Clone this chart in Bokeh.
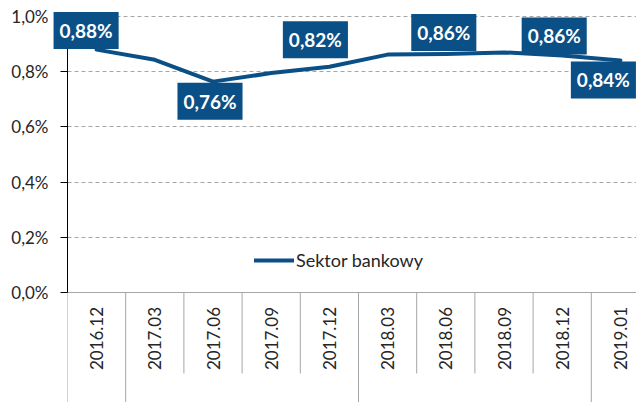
import math
from bokeh.plotting import figure
from bokeh.models import ColumnDataSource, FixedTicker, Range1d, Legend, LegendItem
from bokeh.core.properties import value
from bokeh.embed import file_html
from bokeh.resources import INLINE

# ---- data ----
categories = ["2016.12", "2017.03", "2017.06", "2017.09", "2017.12",
              "2018.03", "2018.06", "2018.09", "2018.12", "2019.01"]
sector_values = [0.880, 0.843, 0.764, 0.795, 0.818, 0.862, 0.864, 0.870, 0.859, 0.841]
labelled = [True, False, True, False, True, False, True, False, True, True]
# year-group boundaries (index of the category that starts a new group)
group_starts = [0, 1, 5, 9]
y_ticks = [0.0, 0.2, 0.4, 0.6, 0.8, 1.0]
y_tick_labels = ["0,0%", "0,2%", "0,4%", "0,6%", "0,8%", "1,0%"]
series_name = "Sektor bankowy"

# ---- styles / layout ----
BLUE = "#0A4F86"
GRID = "#A6A6A6"
TXT = "#262626"
FONT = "Lato"
W, H = 636, 402
LEFT = 67
PX_PER_UNIT = 276.0            # pixels per 1.0 (100%) on the y scale
ZERO_PX = 292                  # pixel (from top of figure) of the 0 line
CAT_W = 58.2                   # pixel width of one category

y_top = ZERO_PX / PX_PER_UNIT
y_bot = -(H - ZERO_PX) / PX_PER_UNIT
x_end = (W - LEFT) / CAT_W


def py(px_from_top):
    return (ZERO_PX - px_from_top) / PX_PER_UNIT


p = figure(width=W, height=H, output_backend="svg", toolbar_location=None,
           x_range=Range1d(0, x_end), y_range=Range1d(y_bot, y_top),
           x_axis_location=None, min_border_left=LEFT, min_border_right=0,
           min_border_top=0, min_border_bottom=0)
p.outline_line_color = None
p.background_fill_color = "white"
p.xgrid.visible = False

# y axis
ax = p.yaxis[0]
ax.ticker = FixedTicker(ticks=y_ticks)
ax.major_label_overrides = {t: l for t, l in zip(y_ticks, y_tick_labels)}
ax.bounds = (0, 1.0)
ax.axis_line_color = "black"
ax.axis_line_width = 1
ax.major_tick_line_color = "black"
ax.major_tick_in = 0
ax.major_tick_out = 7
ax.minor_tick_line_color = None
ax.major_label_standoff = 12
ax.major_label_text_font = FONT
ax.major_label_text_font_size = "17px"
ax.major_label_text_color = TXT

# grid
p.ygrid.ticker = FixedTicker(ticks=y_ticks[1:])
p.ygrid.grid_line_color = GRID
p.ygrid.grid_line_dash = "4 3"
p.ygrid.grid_line_width = 1

n = len(categories)
xs = [i + 0.5 for i in range(n)]

# zero line
p.segment(x0=[0], y0=[0], x1=[x_end + 1], y1=[0], line_color=GRID, line_width=1)

# category separators below the axis
sep_x = list(range(n + 1))
short_end = py(373)
sep_y1 = [y_bot if i in group_starts else short_end for i in sep_x]
p.segment(x0=sep_x, y0=[0] * len(sep_x), x1=sep_x, y1=sep_y1,
          line_color=GRID, line_width=1)

# category labels (rotated)
p.text(x=xs, y=[py(338)] * n, text=categories, angle=math.pi / 2,
       text_align="center", text_baseline="middle",
       text_font=value(FONT), text_font_size="17px", text_color=TXT)

# line
src = ColumnDataSource(dict(x=xs, y=sector_values))
line_r = p.line("x", "y", source=src, line_color=BLUE, line_width=4,
                line_join="round", line_cap="round")

# data labels
lab_dx = [-10.5, 0, -3, 0, -14, 0, -2, 0, -8, -17]
lab_dy = [-19, 0, 19.5, 0, -27, 0, -21.5, 0, -19.5, 19.5]
lx, ly, lt, ldx, ldy = [], [], [], [], []
for i in range(n):
    if labelled[i]:
        lx.append(xs[i])
        ly.append(sector_values[i])
        lt.append(("%.2f" % sector_values[i]).replace(".", ",") + "%")
        ldx.append(lab_dx[i])
        ldy.append(lab_dy[i])
lsrc = ColumnDataSource(dict(x=lx, y=ly, t=lt, dx=ldx, dy=ldy))
tr = p.text(x="x", y="y", text="t", x_offset="dx", y_offset="dy", source=lsrc,
            text_align="center", text_baseline="middle",
            text_font=value(FONT), text_font_style="bold", text_font_size="19px",
            text_color="white", background_fill_color=BLUE, padding=(6, 7))
tr.level = "overlay"

# legend
legend = Legend(items=[LegendItem(label=series_name, renderers=[line_r])],
                location=(187, 131), orientation="horizontal",
                border_line_color=None, background_fill_alpha=0,
                padding=0, margin=0, spacing=0,
                glyph_width=40, glyph_height=20, label_standoff=2,
                label_text_font=FONT, label_text_font_size="18px",
                label_text_color=TXT)
p.add_layout(legend, "center")

open("out.html", "w").write(file_html(p, INLINE))
